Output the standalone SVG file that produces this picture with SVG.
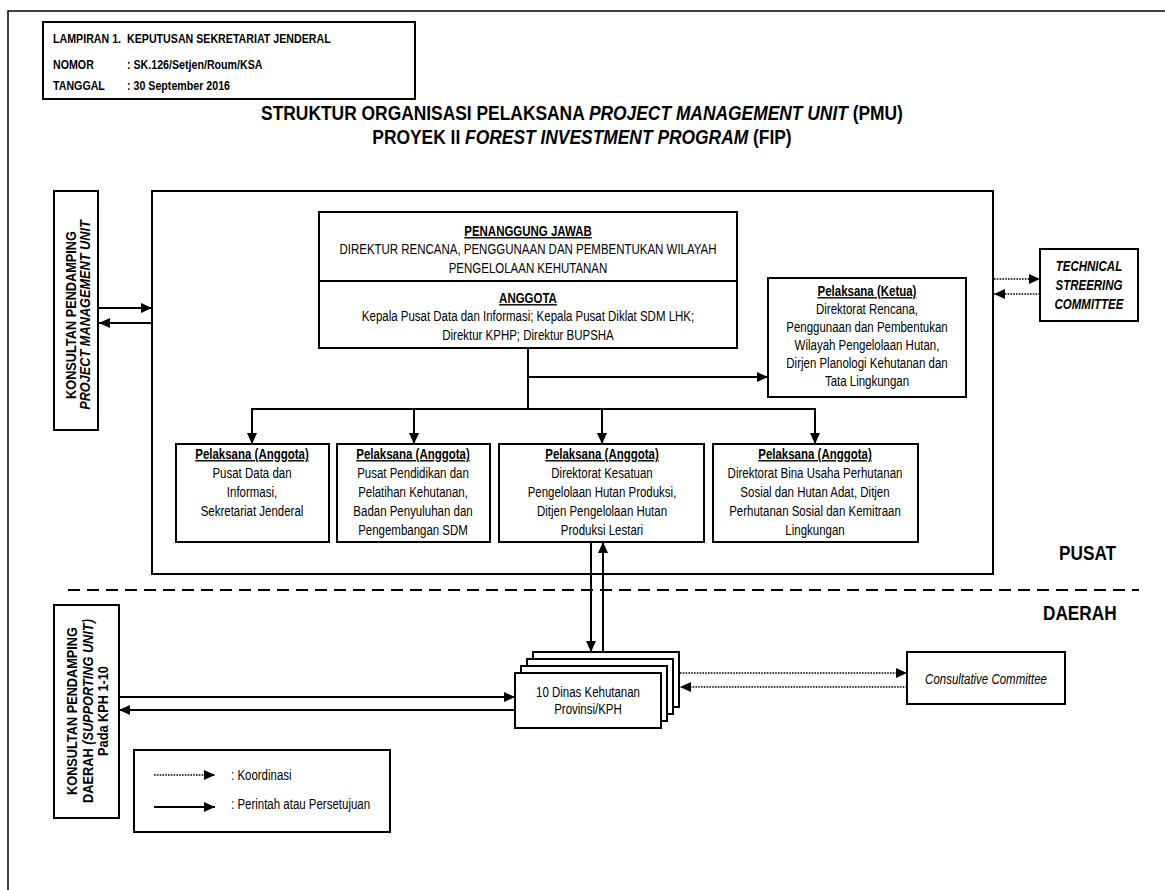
<svg xmlns="http://www.w3.org/2000/svg" width="1165" height="890" viewBox="0 0 1165 890">
<style>
text{font-family:"Liberation Sans",Arial,sans-serif;fill:#000}
.t{font-size:14px}
.c{text-anchor:middle}
.b{font-weight:bold}
.i{font-style:italic}
.u{text-decoration:underline}
.hd{font-size:13px;font-weight:bold}
.ttl{font-size:20px;font-weight:bold;text-anchor:middle}
.big{font-size:21px;font-weight:bold}
.vt{font-size:15px;font-weight:bold;text-anchor:middle}
.box{fill:#fff;stroke:#000;stroke-width:2}
.ln{fill:none;stroke:#000;stroke-width:2}
.dot{fill:none;stroke:#000;stroke-width:1.6;stroke-dasharray:1.6 1.2}
</style>
<defs>
<marker id="ah" markerUnits="userSpaceOnUse" markerWidth="12" markerHeight="10" refX="11" refY="5" orient="auto">
<path d="M0,0 L11,5 L0,10 z" fill="#000"/>
</marker>
</defs>
<rect x="8" y="11" width="1200" height="1000" fill="none" stroke="#000" stroke-width="1.5"/>

<g id="header">
<rect x="43" y="22" width="372" height="77" class="box"/>
<text transform="translate(53,43) scale(.82,1)" class="hd">LAMPIRAN 1.</text>
<text transform="translate(127,43) scale(.82,1)" class="hd">KEPUTUSAN SEKRETARIAT JENDERAL</text>
<text transform="translate(53,69) scale(.82,1)" class="hd">NOMOR</text>
<text transform="translate(127,69) scale(.82,1)" class="hd">: SK.126/Setjen/Roum/KSA</text>
<text transform="translate(53,90) scale(.82,1)" class="hd">TANGGAL</text>
<text transform="translate(127,90) scale(.82,1)" class="hd">: 30 September 2016</text>
</g>

<g id="title">
<text transform="translate(582,120) scale(.87,1)" class="ttl">STRUKTUR ORGANISASI PELAKSANA <tspan class="i">PROJECT MANAGEMENT UNIT</tspan> (PMU)</text>
<text transform="translate(582,144) scale(.87,1)" class="ttl">PROYEK II <tspan class="i">FOREST INVESTMENT PROGRAM</tspan> (FIP)</text>
</g>

<g id="pmu-frame"><rect x="152" y="191" width="841" height="383" class="box"/></g>

<g id="konsultan-pmu">
<rect x="54" y="191" width="44" height="239" class="box"/>
<text transform="translate(76,315) rotate(-90) scale(.85,1)" class="vt">KONSULTAN PENDAMPING</text>
<text transform="translate(90,315) rotate(-90) scale(.85,1)" class="vt i">PROJECT MANAGEMENT UNIT</text>
</g>

<g id="penanggung-jawab">
<rect x="319" y="212" width="418" height="136" class="box"/>
<line x1="319" y1="281" x2="737" y2="281" class="ln"/>
<text transform="translate(528,236) scale(.82,1)" class="t c b u">PENANGGUNG JAWAB</text>
<text transform="translate(528,254) scale(.82,1)" class="t c">DIREKTUR RENCANA, PENGGUNAAN DAN PEMBENTUKAN WILAYAH</text>
<text transform="translate(528,273) scale(.82,1)" class="t c">PENGELOLAAN KEHUTANAN</text>
<text transform="translate(528,303) scale(.82,1)" class="t c b u">ANGGOTA</text>
<text transform="translate(528,321) scale(.82,1)" class="t c">Kepala Pusat Data dan Informasi; Kepala Pusat Diklat SDM LHK;</text>
<text transform="translate(528,340) scale(.82,1)" class="t c">Direktur KPHP; Direktur BUPSHA</text>
</g>

<g id="ketua">
<rect x="768" y="278" width="198" height="119" class="box"/>
<text transform="translate(867,296) scale(.82,1)" class="t c b u">Pelaksana (Ketua)</text>
<text transform="translate(867,314) scale(.82,1)" class="t c">Direktorat Rencana,</text>
<text transform="translate(867,332) scale(.82,1)" class="t c">Penggunaan dan Pembentukan</text>
<text transform="translate(867,350) scale(.82,1)" class="t c">Wilayah Pengelolaan Hutan,</text>
<text transform="translate(867,368) scale(.82,1)" class="t c">Dirjen Planologi Kehutanan dan</text>
<text transform="translate(867,386) scale(.82,1)" class="t c">Tata Lingkungan</text>
</g>

<g id="tsc">
<rect x="1040" y="249" width="98" height="72" class="box"/>
<text transform="translate(1089,271) scale(.82,1)" class="c b i" font-size="14">TECHNICAL</text>
<text transform="translate(1089,290) scale(.82,1)" class="c b i" font-size="14">STREERING</text>
<text transform="translate(1089,309) scale(.82,1)" class="c b i" font-size="14">COMMITTEE</text>
</g>

<g id="anggota-1">
<rect x="176" y="444" width="153" height="98" class="box"/>
<text transform="translate(252,459) scale(.82,1)" class="t c b u">Pelaksana (Anggota)</text>
<text transform="translate(252,478) scale(.82,1)" class="t c">Pusat Data dan</text>
<text transform="translate(252,497) scale(.82,1)" class="t c">Informasi,</text>
<text transform="translate(252,516) scale(.82,1)" class="t c">Sekretariat Jenderal</text>
</g>

<g id="anggota-2">
<rect x="337" y="444" width="153" height="98" class="box"/>
<text transform="translate(413,459) scale(.82,1)" class="t c b u">Pelaksana (Anggota)</text>
<text transform="translate(413,478) scale(.82,1)" class="t c">Pusat Pendidikan dan</text>
<text transform="translate(413,497) scale(.82,1)" class="t c">Pelatihan Kehutanan,</text>
<text transform="translate(413,516) scale(.82,1)" class="t c">Badan Penyuluhan dan</text>
<text transform="translate(413,535) scale(.82,1)" class="t c">Pengembangan SDM</text>
</g>

<g id="anggota-3">
<rect x="499" y="444" width="205" height="98" class="box"/>
<text transform="translate(602,459) scale(.82,1)" class="t c b u">Pelaksana (Anggota)</text>
<text transform="translate(602,478) scale(.82,1)" class="t c">Direktorat Kesatuan</text>
<text transform="translate(602,497) scale(.82,1)" class="t c">Pengelolaan Hutan Produksi,</text>
<text transform="translate(602,516) scale(.82,1)" class="t c">Ditjen Pengelolaan Hutan</text>
<text transform="translate(602,535) scale(.82,1)" class="t c">Produksi Lestari</text>
</g>

<g id="anggota-4">
<rect x="713" y="444" width="205" height="98" class="box"/>
<text transform="translate(815,459) scale(.82,1)" class="t c b u">Pelaksana (Anggota)</text>
<text transform="translate(815,478) scale(.82,1)" class="t c">Direktorat Bina Usaha Perhutanan</text>
<text transform="translate(815,497) scale(.82,1)" class="t c">Sosial dan Hutan Adat, Ditjen</text>
<text transform="translate(815,516) scale(.82,1)" class="t c">Perhutanan Sosial dan Kemitraan</text>
<text transform="translate(815,535) scale(.82,1)" class="t c">Lingkungan</text>
</g>

<g id="zone-labels">
<line x1="68" y1="590" x2="1139" y2="590" stroke="#000" stroke-width="2" stroke-dasharray="12 7"/>
<text transform="translate(1059,560) scale(.82,1)" class="big">PUSAT</text>
<text transform="translate(1043,620) scale(.82,1)" class="big">DAERAH</text>
</g>

<g id="konsultan-daerah">
<rect x="54" y="605" width="65" height="213" class="box"/>
<text transform="translate(77,711) rotate(-90) scale(.85,1)" class="vt">KONSULTAN PENDAMPING</text>
<text transform="translate(93,711) rotate(-90) scale(.85,1)" class="vt">DAERAH <tspan class="i">(SUPPORTING UNIT)</tspan></text>
<text transform="translate(108,711) rotate(-90) scale(.85,1)" class="vt">Pada KPH 1-10</text>
</g>

<g id="dinas">
<rect x="533" y="652" width="146" height="55" class="box"/>
<rect x="527" y="659" width="146" height="55" class="box"/>
<rect x="521" y="666" width="146" height="55" class="box"/>
<rect x="515" y="673" width="146" height="55" class="box"/>
<text transform="translate(588,697) scale(.82,1)" class="t c">10 Dinas Kehutanan</text>
<text transform="translate(588,714) scale(.82,1)" class="t c">Provinsi/KPH</text>
</g>

<g id="consultative">
<rect x="907" y="652" width="158" height="52" class="box"/>
<text transform="translate(986,684) scale(.82,1)" class="t c i">Consultative Committee</text>
</g>

<g id="legend">
<rect x="134" y="750" width="256" height="82" class="box"/>
<line x1="154" y1="775" x2="215" y2="775" class="dot" marker-end="url(#ah)"/>
<text transform="translate(231,780) scale(.82,1)" class="t">: Koordinasi</text>
<line x1="154" y1="807" x2="215" y2="807" class="ln" marker-end="url(#ah)"/>
<text transform="translate(231,809) scale(.82,1)" class="t">: Perintah atau Persetujuan</text>
</g>

<g id="connectors">
<line x1="99" y1="308" x2="152" y2="308" class="ln" marker-end="url(#ah)"/>
<line x1="152" y1="323" x2="99" y2="323" class="ln" marker-end="url(#ah)"/>
<line x1="994" y1="279" x2="1040" y2="279" class="dot" marker-end="url(#ah)"/>
<line x1="1040" y1="294" x2="994" y2="294" class="dot" marker-end="url(#ah)"/>
<path d="M528,348 V409" class="ln"/>
<line x1="528" y1="377" x2="768" y2="377" class="ln" marker-end="url(#ah)"/>
<path d="M252,409 H815" class="ln"/>
<line x1="252" y1="408" x2="252" y2="444" class="ln" marker-end="url(#ah)"/>
<line x1="414" y1="408" x2="414" y2="444" class="ln" marker-end="url(#ah)"/>
<line x1="602" y1="408" x2="602" y2="444" class="ln" marker-end="url(#ah)"/>
<line x1="815" y1="408" x2="815" y2="444" class="ln" marker-end="url(#ah)"/>
<line x1="591" y1="542" x2="591" y2="652" class="ln" marker-end="url(#ah)"/>
<line x1="603" y1="652" x2="603" y2="542" class="ln" marker-end="url(#ah)"/>
<line x1="119" y1="697" x2="515" y2="697" class="ln" marker-end="url(#ah)"/>
<line x1="515" y1="710" x2="119" y2="710" class="ln" marker-end="url(#ah)"/>
<line x1="680" y1="673" x2="907" y2="673" class="dot" marker-end="url(#ah)"/>
<line x1="907" y1="687" x2="680" y2="687" class="dot" marker-end="url(#ah)"/>
</g>
</svg>
